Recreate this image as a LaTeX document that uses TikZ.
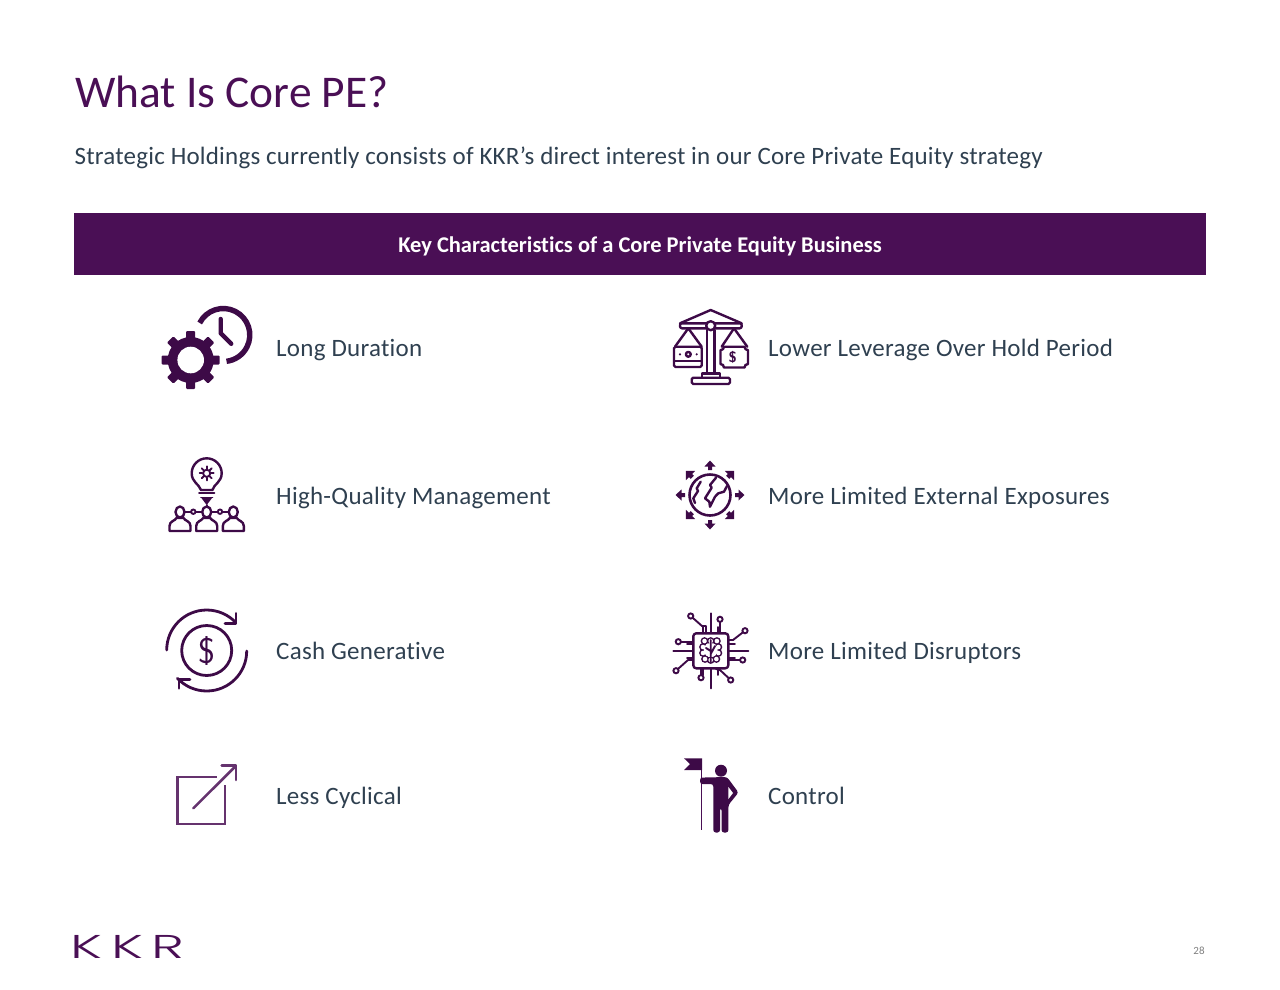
\documentclass[tikz,border=0pt]{standalone}
\usepackage{fontspec}
\setmainfont{Carlito}[Ligatures=CommonOff]
\newfontfamily\logofont{Poppins Light}[LetterSpace=15]
\usetikzlibrary{arrows.meta}
\definecolor{kkrpurple}{HTML}{4A0F55}
\definecolor{kkrdark}{HTML}{3D0A47}
\definecolor{kkrslate}{HTML}{2F4050}
\tikzset{
  lab/.style={anchor=base west,inner sep=0pt,text=kkrslate,font=\fontsize{25}{30}\selectfont\addfontfeatures{LetterSpace=1.1}},
  iconline/.style={draw=kkrdark,line width=2.4pt,line join=round,line cap=round},
  thinline/.style={iconline,line width=1.9pt},
  boxline/.style={iconline,line width=2.6pt,draw=kkrpurple!85!white},
  pinend/.style={draw=kkrdark,fill=white,line width=1.9pt}
}
\begin{document}
\begin{tikzpicture}[x=1pt,y=-1pt]
\useasboundingbox (0,0) rectangle (1280,989);
\node[anchor=base west,inner sep=0pt,text=kkrpurple,font=\fontsize{45.4}{50}\selectfont] (title) at (75,107) {What Is Core PE?};
\node[lab,font=\fontsize{25}{30}\selectfont\addfontfeatures{LetterSpace=0.88}] (sub) at (74.5,164) {Strategic Holdings currently consists of KKR’s direct interest in our Core Private Equity strategy};
\node[fill=kkrpurple,inner sep=0pt,minimum width=1132pt,minimum height=62pt] (band) at (640,244) {};
\node[anchor=base,inner sep=0pt,text=white,font=\fontsize{22.5}{26}\bfseries\selectfont] (bandtext) at (640,252) {Key Characteristics of a Core Private Equity Business};
\node[lab] (a1) at (276,356) {Long Duration};
\node[lab] (a2) at (276,504) {High-Quality Management};
\node[lab] (a3) at (276,659) {Cash Generative};
\node[lab] (a4) at (276,804) {Less Cyclical};
\node[lab] (b1) at (768,356) {Lower Leverage Over Hold Period};
\node[lab] (b2) at (768,504) {More Limited External Exposures};
\node[lab] (b3) at (768,659) {More Limited Disruptors};
\node[lab] (b4) at (768,804) {Control};
% gear and clock
\fill[kkrdark] (190.7,360) circle (23);
\foreach \a in {0,45,...,315}
  \fill[kkrdark,shift={(190.7,360)},rotate=\a,rounded corners=1pt] (-4.5,-29) rectangle (4.5,-20);
\fill[white] (190.7,360) circle (13.3);
\draw[iconline,line width=5.4pt,line cap=butt] (223.3,335) ++(-153:26.5) arc[start angle=-153,end angle=83,radius=26.5];
\draw[iconline,line width=4.4pt] (220.7,319) -- (220.7,333.3) -- (231.2,343.8);
% bulb and people
\draw[iconline] (201,490) .. controls (199,484) and (191.7,482) .. (191.7,473.3) arc[start angle=180,end angle=360,radius=15] .. controls (221.7,482) and (214,484) .. (212.4,490) -- cycle;
\draw[thinline] (199,493) -- (214.4,493) (201,497.5) -- (212.4,497.5);
\fill[kkrdark] (201,497.5) -- (206.7,505) -- (212.4,497.5) -- cycle;
\draw[thinline] (206.7,473.3) circle (3.6);
\foreach \a in {0,45,...,315}
  \draw[thinline,shift={(206.7,473.3)},rotate=\a] (0,-4.5) -- (0,-7);
\draw[thinline] (206.7,505) -- (206.7,507);
\foreach \x in {180,206.7,233.3}{
  \draw[iconline] (\x,512) ellipse (4.5 and 5.5);
  \draw[iconline] (\x-10.5,531) -- (\x-10.5,526) .. controls (\x-10.5,521) and (\x-5,521) .. (\x-3.5,518) -- (\x+3.5,518) .. controls (\x+5,521) and (\x+10.5,521) .. (\x+10.5,526) -- (\x+10.5,531) -- cycle;
}
\draw[thinline] (184.5,511.7) -- (202.2,511.7) (211.2,511.7) -- (228.8,511.7);
\foreach \x in {193.3,220}
  \filldraw[pinend] (\x,511.7) circle (2.2);
% cash
\draw[iconline,line width=2.8pt] (206.7,650.5) circle (25);
\draw[iconline,line width=2.8pt] (166.7,650) arc[start angle=180,end angle=317,radius=40];
\draw[iconline,line width=2.8pt] (236,613.3) -- (236,623.3) -- (225,623.3);
\draw[iconline,line width=2.8pt] (246.7,651) arc[start angle=0,end angle=137,radius=40];
\draw[iconline,line width=2.8pt] (179,688.3) -- (179,679.3) -- (190,679.3);
\node[inner sep=0pt,text=kkrdark,font=\fontsize{36}{40}\sffamily\selectfont] (cash) at (206.7,651) {\$};
% arrow out of box
\draw[boxline,line cap=butt,line join=miter] (216.7,777) -- (177.3,777) -- (177.3,824) -- (225,824) -- (225,785);
\draw[boxline] (193.3,808.3) -- (236,765.7);
\draw[boxline] (221.7,765.7) -- (236,765.7) -- (236,780);
% scales
\draw[iconline] (680,323.3) -- (710.7,310) -- (741.7,323.3);
\draw[iconline,fill=white,rounded corners=2pt] (680,323.3) rectangle (741.7,328.3);
\draw[iconline] (706.7,330) -- (706.7,373.3) (714.3,330) -- (714.3,373.3);
\draw[iconline,fill=white] (710.7,325.7) circle (4.5);
\draw[iconline] (701.7,377.7) -- (701.7,373.3) -- (720,373.3) -- (720,377.7);
\draw[iconline,fill=white,rounded corners=1.5pt] (691.7,377.7) rectangle (730,384);
\draw[iconline] (675,346.7) -- (688.3,328.3) -- (701.7,346.7);
\draw[iconline] (734,328.3) -- (721.7,346.7) (734,328.3) -- (747.3,346.7);
\draw[iconline,rounded corners=1.5pt] (674,346.7) rectangle (701.7,367);
\draw[iconline] (674,360.7) -- (701.7,360.7);
\draw[iconline] (688.3,354.3) circle (2.4);
\fill[kkrdark] (680,354.3) circle (1.2) (696.7,354.3) circle (1.2);
\draw[iconline] (724,346.7) -- (744.5,346.7) arc[start angle=180,end angle=90,radius=3.5] -- (748,364) arc[start angle=-90,end angle=-180,radius=3.5] -- (724,367.5) arc[start angle=0,end angle=-90,radius=3.5] -- (720.5,350.2) arc[start angle=90,end angle=0,radius=3.5];
\node[inner sep=0pt,text=kkrdark,font=\fontsize{15}{16}\bfseries\sffamily\selectfont] (usd) at (732.7,357.5) {\$};
% globe with arrows
\draw[iconline,line width=2.6pt] (710,495) circle (20.5);
\draw[iconline] (700.7,481.7) -- (696.7,488.3) -- (698,491) -- (693.3,498.3) -- (695,503);
\draw[iconline] (716,477.7) -- (710,485) -- (711.7,487.7) -- (705,498.3) -- (709.3,501.7) -- (710,506.7) -- (715,496.7) -- (718.3,493.3) -- (724,491.7) -- (727,486);
\foreach \a in {0,90,180,270}{
  \fill[kkrdark,shift={(710,495)},rotate=\a] (0,-34.5) -- (5.5,-28.5) -- (2,-28.5) -- (2,-25) -- (-2,-25) -- (-2,-28.5) -- (-5.5,-28.5) -- cycle;
}
\foreach \a in {45,135,225,315}{
  \fill[kkrdark,shift={(710,495)},rotate=\a] (0,-34) -- (6.5,-27.5) -- (2.2,-27.5) -- (2.2,-25) -- (-2.2,-25) -- (-2.2,-27.5) -- (-6.5,-27.5) -- cycle;
}
% chip
\draw[iconline] (693.3,636.3) arc[start angle=180,end angle=270,radius=3] -- (725.3,633.3) arc[start angle=-90,end angle=0,radius=3] -- (728.3,665.3) arc[start angle=0,end angle=90,radius=3] -- (696.3,668.3) arc[start angle=90,end angle=180,radius=3] -- cycle;
\draw[thinline] (710.7,613.3) -- (710.7,633) (710.7,669) -- (710.7,688.3) (673.3,650.7) -- (693,650.7) (729,650.7) -- (748.3,650.7);
\draw[thinline] (703.3,627) -- (703.3,633) (718,627) -- (718,633) (703.3,669) -- (703.3,675) (718,669) -- (718,675) (687,644) -- (693,644) (687,658) -- (693,658) (729,644) -- (735,644) (729,658) -- (735,658);
\draw[thinline] (690.7,616) -- (702,626) -- (706,626) -- (706,633);
\draw[thinline] (720,619.3) -- (720,633);
\draw[thinline] (745,630.7) -- (733,640) -- (729,640);
\draw[thinline] (742.7,660) -- (729,660);
\draw[thinline] (730.7,680) -- (720,670) -- (716,669);
\draw[thinline] (701,677.7) -- (701,669);
\draw[thinline] (676,670.7) -- (688,660) -- (693,660);
\draw[thinline] (678.3,641.7) -- (693,641.7);
\foreach \x/\y in {690.7/616,720/619.3,745/630.7,742.7/660,730.7/680,701/677.7,676/670.7,678.3/641.7}
  \filldraw[pinend] (\x,\y) circle (2.6);
\foreach \x/\y in {704.5/641,710.7/641,703/647,703/653,705/659,710.7/660,716.9/641,718.4/647,718.4/653,716.4/659}
  \fill[kkrdark] (\x,\y) circle (3.9);
\foreach \x/\y in {704.5/641,710.7/641,703/647,703/653,705/659,710.7/660,716.9/641,718.4/647,718.4/653,716.4/659}
  \fill[white] (\x,\y) circle (2.3);
\fill[white] (710.7,650) circle (7);
\draw[thinline] (710.7,640) -- (710.7,662) (706,648) -- (710.7,651) (715,646) -- (710.7,654);
% person with flag
\draw[kkrpurple,line width=1.4pt] (701.7,759) -- (701.7,830);
\fill[kkrdark] (684,758.3) -- (702,758.3) -- (702,770) -- (684,770) -- (690,764) -- cycle;
\fill[kkrdark] (721,770.7) circle (6);
\fill[kkrdark,rounded corners=2.5pt] (700,777.6) -- (727,777) -- (738.5,792.5) -- (728.4,805) -- (728.4,832.5) -- (721.6,832.5) -- (721.6,808) -- (720,808) -- (720,832.5) -- (713.3,832.5) -- (713.3,784) -- (700,784) -- cycle;
\fill[white] (728.4,787) -- (733,793) -- (728.4,799) -- cycle;
% logo and page number
\node[anchor=base west,inner sep=0pt,text=kkrpurple,xscale=1.7,font=\fontsize{33}{34}\logofont] (logo) at (70.5,958) {KKR};
\node[inner sep=0pt,text=gray,font=\fontsize{11}{13}\selectfont] (page) at (1199,951) {28};
\end{tikzpicture}
\end{document}
